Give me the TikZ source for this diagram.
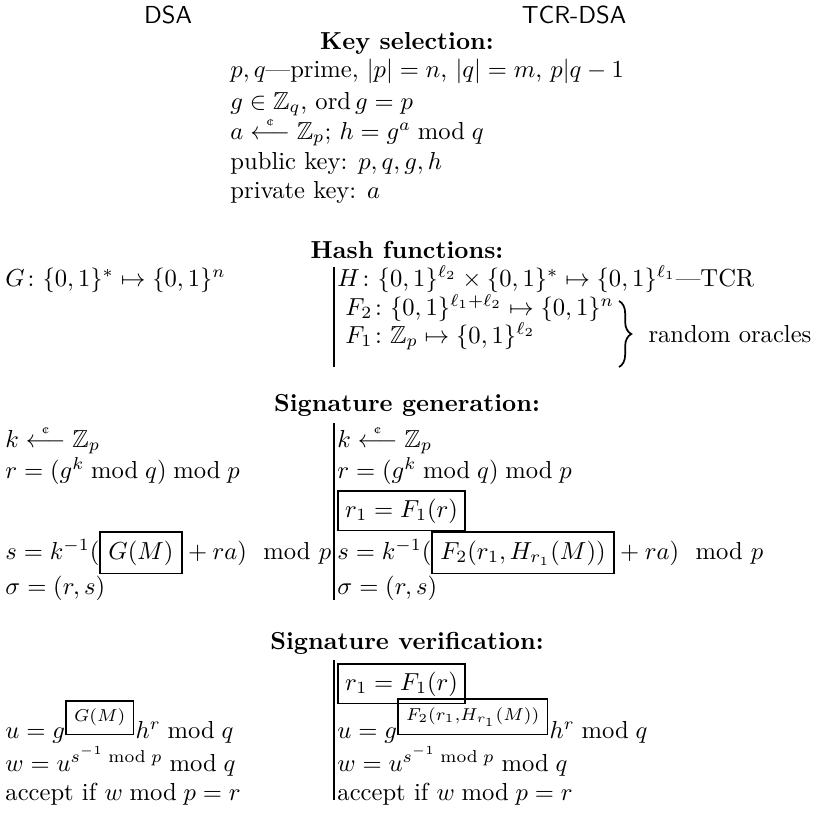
\documentclass[tikz,border=0pt]{standalone}
\usepackage{amsmath,amssymb}
\usetikzlibrary{decorations.pathreplacing}
\tikzstyle{rowtext}=[anchor=base west,inner sep=0pt]
\tikzstyle{secthead}=[anchor=base,inner sep=0pt,font=\bfseries]
\tikzstyle{colhead}=[anchor=base,inner sep=0pt,font=\sffamily]
\tikzstyle{splitline}=[draw,line width=0.7pt]
\tikzstyle{hashbox}=[draw,line width=0.7pt,anchor=base west,inner sep=3pt]
\setlength{\fboxrule}{0.7pt}
\newcommand{\rndfrom}{\mathrel{\overset{\text{\tiny\textcent}}{\longleftarrow}}}

\begin{document}
\begin{tikzpicture}[x=0.4065pt,y=-0.4065pt]
  \useasboundingbox (0,0) rectangle (814,814);
  \node[colhead] (dsa) at (168,23) {DSA};
  \node[colhead] (tcrdsa) at (574,23) {TCR-DSA};

  % key selection
  \node[secthead] (keysel) at (407,49) {Key selection:};
  \node[rowtext] (key1) at (230,78) {$p,q$---prime, $|p|=n$, $|q|=m$, $p|q-1$};
  \node[rowtext] (key2) at (230,109) {$g\in\mathbb{Z}_q$, $\operatorname{ord} g=p$};
  \node[rowtext] (key3) at (230,139) {$a\rndfrom\mathbb{Z}_p$; $h=g^a\bmod q$};
  \node[rowtext] (key4) at (230,169) {public key: $p,q,g,h$};
  \node[rowtext] (key5) at (230,198) {private key: $a$};

  % hash functions
  \node[secthead] (hashes) at (407,258) {Hash functions:};
  \node[rowtext] (hashG) at (5,286) {$G\colon\{0,1\}^*\mapsto\{0,1\}^n$};
  \coordinate (hashtop) at (334,267);
  \coordinate (hashbot) at (334,367);
  \draw[splitline] (hashtop) -- (hashbot);
  \node[rowtext] (hashH) at (337,286) {$H\colon\{0,1\}^{\ell_2}\times\{0,1\}^*\mapsto\{0,1\}^{\ell_1}$---TCR};
  \node[rowtext] (hashF2) at (345,315) {$F_2\colon\{0,1\}^{\ell_1+\ell_2}\mapsto\{0,1\}^n$};
  \node[rowtext] (hashF1) at (345,343) {$F_1\colon\mathbb{Z}_p\mapsto\{0,1\}^{\ell_2}$};
  \coordinate (oratop) at (619,301);
  \coordinate (orabot) at (619,367);
  \draw[decorate,decoration={brace,amplitude=5pt},line width=0.7pt] (oratop) -- (orabot);
  \node[rowtext] (oracles) at (648,342) {random oracles};

  % signature generation
  \node[secthead] (siggen) at (407,411) {Signature generation:};
  \node[rowtext] (genk) at (5,447) {$k\rndfrom\mathbb{Z}_p$};
  \node[rowtext] (genr) at (5,478) {$r=(g^k\bmod q)\bmod p$};
  \node[rowtext] (gens) at (5,559) {$s=k^{-1}(\fbox{$G(M)$}+ra)\mod p$};
  \node[rowtext] (gensig) at (5,594) {$\sigma=(r,s)$};
  \coordinate (gentop) at (334,423);
  \coordinate (genbot) at (334,600);
  \draw[splitline] (gentop) -- (genbot);
  \node[rowtext] (tgenk) at (337,447) {$k\rndfrom\mathbb{Z}_p$};
  \node[rowtext] (tgenr) at (337,478) {$r=(g^k\bmod q)\bmod p$};
  \node[hashbox] (tgenr1) at (337,517) {$r_1=F_1(r)$};
  \node[rowtext] (tgens) at (337,559) {$s=k^{-1}(\fbox{$F_2(r_1,H_{r_1}(M))$}+ra)\mod p$};
  \node[rowtext] (tgensig) at (337,594) {$\sigma=(r,s)$};

  % signature verification
  \node[secthead] (sigver) at (407,649) {Signature verification:};
  \node[rowtext] (veru) at (5,738) {$u=g^{\fbox{$\scriptstyle G(M)$}}h^r\bmod q$};
  \node[rowtext] (verw) at (5,771) {$w=u^{s^{-1}\bmod p}\bmod q$};
  \node[rowtext] (verok) at (5,800) {accept if $w\bmod p=r$};
  \coordinate (vertop) at (334,660);
  \coordinate (verbot) at (334,800);
  \draw[splitline] (vertop) -- (verbot);
  \node[hashbox] (tverr1) at (337,690) {$r_1=F_1(r)$};
  \node[rowtext] (tveru) at (337,738) {$u=g^{\fbox{$\scriptstyle F_2(r_1,H_{r_1}(M))$}}h^r\bmod q$};
  \node[rowtext] (tverw) at (337,771) {$w=u^{s^{-1}\bmod p}\bmod q$};
  \node[rowtext] (tverok) at (337,800) {accept if $w\bmod p=r$};
\end{tikzpicture}
\end{document}
